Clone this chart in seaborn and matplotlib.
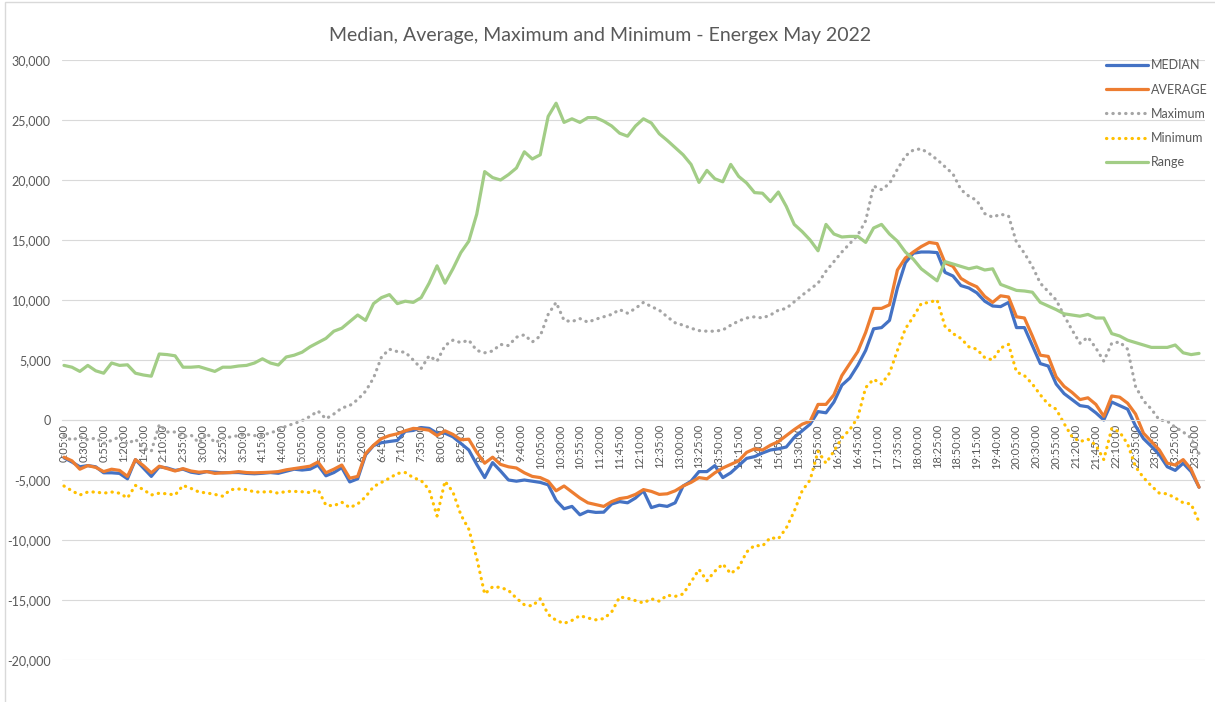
import matplotlib
matplotlib.use("Agg")
import matplotlib.pyplot as plt
from matplotlib.ticker import FuncFormatter
from matplotlib.patches import Rectangle
import pandas as pd
import seaborn as sns

# readings every 10 minutes, 0:05 .. 23:55 (one row per hour: :05 :15 :25 :35 :45 :55)
median = [
    -3150, -3500, -3900, -3800, -3900, -4400,
    -4400, -4450, -4900, -3300, -4000, -4700,
    -3900, -4000, -4200, -4100, -4350, -4450,
    -4300, -4350, -4400, -4380, -4380, -4450,
    -4480, -4440, -4380, -4440, -4270, -4100,
    -4170, -4100, -3760, -4650, -4380, -3970,
    -5160, -4900, -2900, -2130, -1890, -1790,
    -1700, -940, -870, -630, -700, -1100,
    -1100, -1400, -1950, -2500, -3700, -4800,
    -3550, -4250, -5000, -5100, -5000, -5100,
    -5200, -5400, -6700, -7400, -7200, -7900,
    -7600, -7700, -7680, -7000, -6800, -6900,
    -6500, -5900, -7300, -7100, -7200, -6900,
    -5500, -5100, -4300, -4300, -3800, -4800,
    -4400, -3800, -3200, -3050, -2750, -2500,
    -2400, -2250, -1450, -900, -350, 700,
    600, 1500, 2900, 3500, 4550, 5800,
    7600, 7700, 8300, 11000, 13100, 13900,
    14000, 14000, 13950, 12300, 12000, 11200,
    11000, 10600, 9900, 9500, 9450, 9800,
    7700, 7700, 6200, 4700, 4500, 3000,
    2200, 1700, 1200, 1100, 600, 0,
    1500, 1200, 900, -500, -1550, -2200,
    -2900, -3900, -4200, -3600, -4300, -5600,
]

average = [
    -3100, -3400, -4100, -3800, -3950, -4300,
    -4100, -4200, -4700, -3300, -3800, -4400,
    -3850, -4050, -4250, -4050, -4250, -4350,
    -4300, -4450, -4400, -4380, -4300, -4380,
    -4400, -4380, -4350, -4300, -4150, -4050,
    -3950, -3850, -3500, -4400, -4100, -3750,
    -4850, -4700, -2800, -2100, -1550, -1300,
    -1150, -900, -700, -750, -850, -1300,
    -900, -1200, -1650, -1600, -2700, -3600,
    -3100, -3700, -3900, -4000, -4400, -4700,
    -4800, -5100, -5900, -5500, -6000, -6500,
    -6900, -7050, -7200, -6800, -6550, -6450,
    -6200, -5800, -5950, -6200, -6150, -5900,
    -5500, -5200, -4800, -4900, -4400, -4000,
    -3700, -3400, -2700, -2400, -2500, -2100,
    -1800, -1300, -800, -350, -100, 1300,
    1300, 2100, 3700, 4700, 5700, 7300,
    9300, 9300, 9600, 12500, 13500, 14000,
    14450, 14800, 14700, 13100, 12800, 11800,
    11400, 11100, 10300, 9800, 10350, 10250,
    8600, 8500, 7000, 5400, 5300, 3600,
    2800, 2300, 1700, 1850, 1300, 300,
    2000, 1900, 1400, 500, -1100, -1800,
    -2500, -3600, -3750, -3300, -4100, -5600,
]

maximum = [
    -1300, -1700, -1400, -1650, -1500, -1950,
    -1700, -1400, -2000, -1600, -2300, -2600,
    -400, -1000, -1000, -1400, -1250, -1900,
    -1100, -1900, -1550, -1400, -1300, -1200,
    -1300, -1300, -1050, -900, -500, -300,
    -50, 300, 750, 100, 500, 1000,
    1200, 1700, 2400, 3500, 5250, 5900,
    5700, 5650, 5000, 4300, 5350, 4900,
    6200, 6650, 6450, 6650, 5800, 5600,
    5750, 6300, 6200, 6900, 7100, 6500,
    7000, 8800, 9800, 8300, 8200, 8450,
    8150, 8400, 8600, 8800, 9200, 8900,
    9300, 9800, 9450, 9150, 8600, 8100,
    7900, 7650, 7450, 7400, 7400, 7500,
    7900, 8250, 8500, 8600, 8500, 8750,
    9150, 9300, 9850, 10400, 10900, 11400,
    12400, 13200, 14000, 14700, 15400, 16600,
    19500, 19200, 19700, 20900, 22000, 22500,
    22600, 22200, 21700, 21100, 20500, 19200,
    18650, 18300, 17200, 16900, 17150, 17000,
    14800, 13900, 12800, 11400, 10700, 10000,
    8700, 7500, 6400, 6900, 6000, 4900,
    6400, 6500, 5900, 2800, 1600, 900,
    0, -100, -600, -1000, -1500, -2800,
]

minimum = [
    -5500, -5900, -6250, -6000, -6000, -6100,
    -6000, -6100, -6500, -5450, -5800, -6250,
    -6100, -6150, -6250, -5450, -5700, -6000,
    -6080, -6200, -6350, -5800, -5750, -5800,
    -6000, -6000, -5970, -6100, -5950, -5950,
    -5980, -6050, -5800, -7100, -7150, -6850,
    -7300, -7000, -6400, -5550, -5200, -4850,
    -4450, -4380, -4800, -5050, -5800, -8000,
    -5100, -6000, -7900, -9100, -11500, -14500,
    -13900, -13950, -14200, -14850, -15400, -15500,
    -14900, -16200, -16700, -16950, -16700, -16300,
    -16500, -16650, -16550, -16000, -14750, -14850,
    -15050, -15250, -14900, -15100, -14600, -14700,
    -14500, -13500, -12450, -13400, -12600, -12000,
    -12800, -12300, -11000, -10450, -10500, -9800,
    -9900, -9000, -7600, -5900, -5000, -2600,
    -3600, -2600, -1500, -800, 200, 2700,
    3400, 3000, 3900, 5800, 7600, 8600,
    9700, 9800, 10000, 7800, 7200, 6800,
    6100, 5900, 5200, 5000, 6000, 6300,
    4000, 3700, 3000, 2100, 1300, 900,
    -300, -1400, -1800, -1600, -2100, -3300,
    -700, -1000, -2000, -3900, -4800, -5500,
    -6100, -6150, -6500, -6900, -7000, -8500,
]

value_range = [
    4550, 4400, 4050, 4550, 4100, 3900,
    4750, 4550, 4600, 3900, 3750, 3650,
    5500, 5450, 5350, 4400, 4400, 4450,
    4250, 4050, 4400, 4400, 4500, 4550,
    4750, 5100, 4750, 4580, 5250, 5400,
    5650, 6100, 6450, 6800, 7400, 7650,
    8200, 8750, 8300, 9700, 10200, 10450,
    9700, 9900, 9800, 10200, 11400, 12850,
    11400, 12600, 13950, 14900, 17150, 20700,
    20200, 20000, 20450, 21000, 22350, 21750,
    22100, 25300, 26400, 24800, 25100, 24800,
    25200, 25200, 24900, 24500, 23900, 23650,
    24500, 25100, 24750, 23850, 23300, 22700,
    22100, 21300, 19800, 20800, 20100, 19850,
    21300, 20300, 19750, 18950, 18900, 18200,
    19000, 17800, 16300, 15700, 15000, 14100,
    16300, 15500, 15250, 15300, 15300, 14800,
    16000, 16300, 15500, 14900, 14000, 13400,
    12600, 12100, 11600, 13200, 13000, 12800,
    12600, 12750, 12500, 12600, 11300, 11050,
    10800, 10750, 10650, 9800, 9500, 9200,
    8850, 8750, 8650, 8800, 8500, 8500,
    7200, 7000, 6650, 6450, 6250, 6050,
    6050, 6050, 6250, 5600, 5450, 5550,
]

minutes = list(range(5, 1440, 10))
tick_minutes = list(range(5, 1440, 25))
tick_labels = [f"{m // 60}:{m % 60:02d}:00" for m in tick_minutes]

df = pd.DataFrame({
    "minute": minutes,
    "MEDIAN": median,
    "AVERAGE": average,
    "Maximum": maximum,
    "Minimum": minimum,
    "Range": value_range,
})

sns.set_theme(style="white")
plt.rcParams["font.family"] = ["Lato", "DejaVu Sans"]

fig, ax = plt.subplots(figsize=(12.15, 7.02), dpi=100)
fig.subplots_adjust(left=62 / 1215, right=1205 / 1215, top=1 - 60 / 702, bottom=1 - 660 / 702)

series = [
    ("MEDIAN", "#4472C4", "-"),
    ("AVERAGE", "#ED7D31", "-"),
    ("Maximum", "#A5A5A5", (0, (0.1, 1.9))),
    ("Minimum", "#FFC000", (0, (0.1, 1.9))),
    ("Range", "#A2CD86", "-"),
]
for name, col, ls in series:
    sns.lineplot(data=df, x="minute", y=name, ax=ax, color=col, linewidth=2.3,
                 linestyle=ls, label=name, dash_capstyle="round", solid_capstyle="round")

ax.set_xlim(2.5, 1442.5)
ax.set_ylim(-20000, 30000)
ax.set_yticks(range(-20000, 30001, 5000))
ax.yaxis.set_major_formatter(FuncFormatter(lambda v, p: f"{v:,.0f}"))
ax.set_xticks(tick_minutes)
ax.set_xticklabels(tick_labels)
ax.set_xlabel("")
ax.set_ylabel("")

ax.yaxis.grid(True, color="#D9D9D9", linewidth=0.8)
ax.xaxis.grid(False)
ax.set_axisbelow(True)
for s in ["top", "right", "left"]:
    ax.spines[s].set_visible(False)
ax.spines["bottom"].set_position(("data", 0))
ax.spines["bottom"].set_color("#D9D9D9")
ax.spines["bottom"].set_linewidth(0.8)

ax.tick_params(axis="x", length=0, pad=3, labelsize=8, labelcolor="#595959", labelrotation=90)
ax.tick_params(axis="y", length=0, pad=8, labelsize=9, labelcolor="#595959")

ax.legend(loc="upper left", bbox_to_anchor=(1100 / 1215, 1 - 53 / 702),
          bbox_transform=fig.transFigure, frameon=False, fontsize=9,
          handlelength=3.3, handletextpad=0.3, labelspacing=0.98, borderpad=0,
          labelcolor="#595959")

fig.text(600 / 1215, 1 - 35 / 702, "Median, Average, Maximum and Minimum - Energex May 2022",
         ha="center", va="center", fontsize=14, color="#595959")

fig.patches.append(Rectangle((5 / 1215, -0.01), 1.02, 1 - 2 / 702 + 0.01,
                             transform=fig.transFigure, fill=False,
                             edgecolor="#D9D9D9", linewidth=1))

fig.savefig("out.png", dpi=100)
